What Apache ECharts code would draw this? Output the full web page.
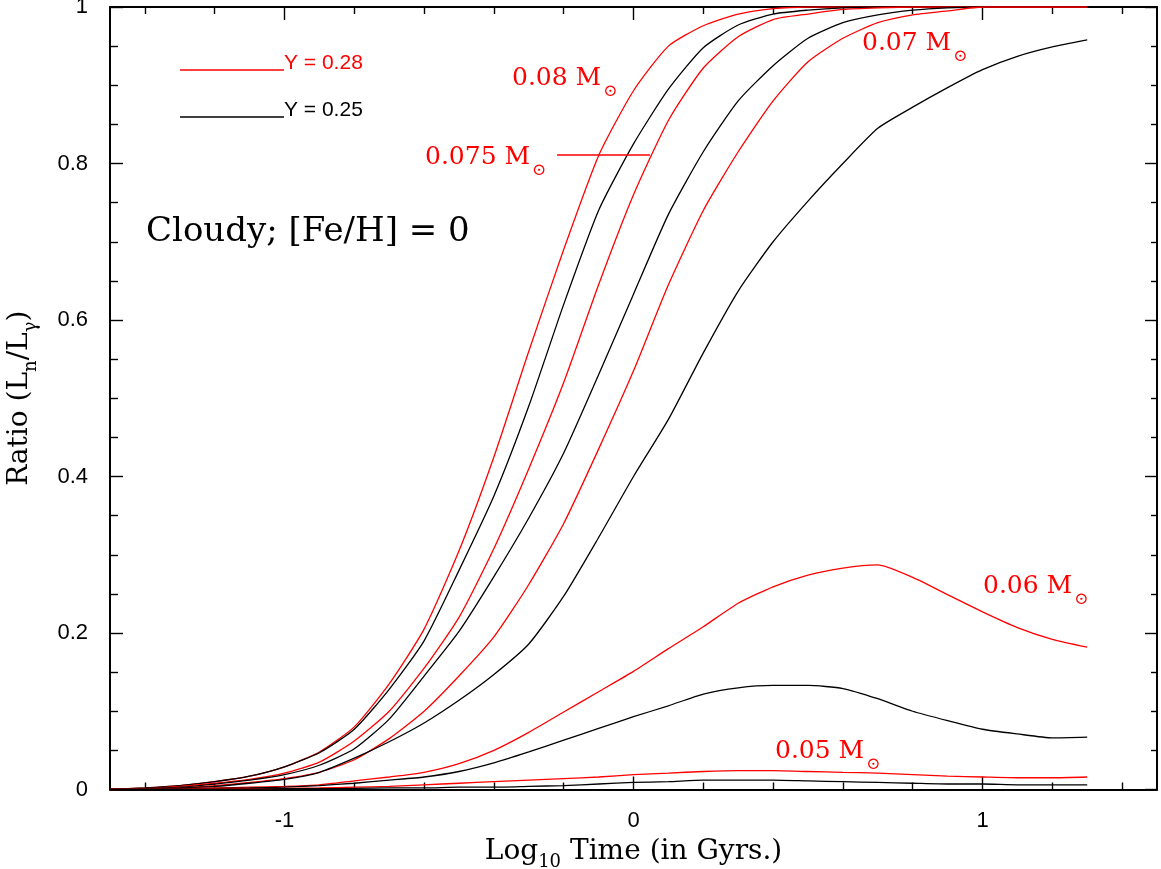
<!DOCTYPE html>
<html>
<head>
<meta charset="utf-8">
<script src="https://cdn.jsdelivr.net/npm/echarts@6/dist/echarts.min.js"></script>
<style>
html,body{margin:0;padding:0;background:#fff;}
#chart{width:1161px;height:869px;}
</style>
</head>
<body>
<div id="chart"></div>
<script>
// x positions (log10 time in Gyr)
const xVals = [-1.5,-1.4,-1.3,-1.2,-1.1,-1.0,-0.9,-0.8,-0.7,-0.6,-0.5,-0.4,-0.3,-0.2,-0.1,
               0.0,0.1,0.2,0.3,0.4,0.5,0.6,0.7,0.8,0.9,1.0,1.1,1.2,1.3];

// Y = 0.28 (red)
const r080 = [0,0.002,0.005,0.010,0.017,0.029,0.048,0.080,0.135,0.205,0.305,0.425,0.56,0.69,0.81,
              0.893,0.95,0.976,0.991,0.998,1,1,1,1,1,1,1,1,1];
const r075 = [0,0.001,0.004,0.008,0.013,0.021,0.035,0.062,0.10,0.155,0.22,0.308,0.41,0.52,0.645,
              0.76,0.855,0.922,0.962,0.984,0.991,0.997,0.999,1,1,1,1,1,1];
const r070 = [0,0.001,0.002,0.005,0.009,0.014,0.022,0.038,0.065,0.10,0.145,0.195,0.262,0.34,0.435,
              0.535,0.645,0.74,0.815,0.88,0.93,0.96,0.98,0.99,0.995,1,1,1,1];
const r060 = [0,0.0005,0.001,0.002,0.003,0.004,0.006,0.011,0.016,0.022,0.033,0.05,0.073,0.099,0.125,
              0.151,0.18,0.208,0.238,0.259,0.274,0.283,0.287,0.271,0.249,0.227,0.207,0.192,0.182];
const r050 = [0,0,0.0005,0.001,0.001,0.0015,0.002,0.003,0.004,0.006,0.008,0.010,0.012,0.014,0.016,
              0.019,0.021,0.023,0.024,0.024,0.023,0.022,0.021,0.019,0.017,0.016,0.015,0.015,0.016];

// Y = 0.25 (black)
const b080 = [0,0.002,0.005,0.010,0.017,0.029,0.047,0.077,0.128,0.19,0.28,0.375,0.49,0.62,0.74,
              0.825,0.895,0.948,0.977,0.991,0.996,0.999,1,1,1,1,1,1,1];
const b075 = [0,0.001,0.003,0.007,0.012,0.019,0.031,0.052,0.09,0.145,0.202,0.272,0.347,0.43,0.53,
              0.633,0.735,0.815,0.88,0.925,0.96,0.98,0.99,0.996,0.999,1,1,1,1];
const b070 = [0,0.001,0.002,0.004,0.008,0.013,0.022,0.04,0.061,0.085,0.114,0.147,0.186,0.247,0.322,
              0.40,0.473,0.558,0.637,0.70,0.752,0.80,0.845,0.872,0.897,0.92,0.937,0.949,0.958];
const b060 = [0,0.0005,0.001,0.0015,0.002,0.003,0.005,0.008,0.012,0.016,0.023,0.034,0.048,0.063,0.078,
              0.093,0.107,0.122,0.130,0.133,0.133,0.129,0.116,0.100,0.088,0.077,0.071,0.066,0.067];
const b050 = [0,0,0,0.0005,0.0005,0.001,0.001,0.0015,0.002,0.002,0.003,0.003,0.004,0.005,0.007,
              0.009,0.010,0.012,0.012,0.012,0.011,0.010,0.009,0.008,0.007,0.007,0.006,0.006,0.006];

const xMajor = [-1, 0, 1];
const xMinor = [-1.4,-1.2,-0.8,-0.6,-0.4,-0.2,0.2,0.4,0.6,0.8,1.2,1.4];
const legendLabels = ['Y = 0.28', 'Y = 0.25'];

const RED = '#ff0000', BLACK = '#000000';
const SERIF = '"DejaVu Serif", serif';
const SANS = '"Liberation Sans", Arial, sans-serif';

function mk(name, arr, color) {
  return {
    name: name, type: 'line', data: xVals.map((x, i) => [x, arr[i]]),
    showSymbol: false, symbol: 'none', smooth: 0.2,
    lineStyle: { color: color, width: 1.3 }, z: 3, silent: true, animation: false
  };
}

function xAx(pos, ticks, len, showLine, showLabel) {
  return {
    type: 'value', position: pos, min: -1.5, max: 1.5,
    axisLine: { show: showLine, onZero: false, lineStyle: { color: BLACK, width: 2 } },
    axisTick: { show: true, inside: true, length: len, customValues: ticks, lineStyle: { color: BLACK, width: 1.4 } },
    axisLabel: { show: showLabel, customValues: ticks, margin: 20, color: BLACK, fontSize: 22, fontFamily: SANS },
    splitLine: { show: false }
  };
}

const chart = echarts.init(document.getElementById('chart'), null, { renderer: 'canvas' });

function annot(txt, left, cy) {
  return {
    type: 'text', left: left, top: cy - 11, z: 10,
    style: {
      text: '{a|' + txt + '}{s|⊙}',
      rich: {
        a: { fontFamily: SERIF, fontSize: 25, lineHeight: 34, verticalAlign: 'top', fill: RED, color: RED },
        s: { fontFamily: SERIF, fontSize: 17, lineHeight: 17, verticalAlign: 'bottom', fill: RED, color: RED, padding: [0,0,0,2] }
      }
    }
  };
}

const nameRich = {
  a: { fontFamily: SERIF, fontSize: 28, color: BLACK, verticalAlign: 'top', lineHeight: 34 },
  s: { fontFamily: SERIF, fontSize: 18, color: BLACK, verticalAlign: 'bottom', lineHeight: 20 }
};

chart.setOption({
  animation: false,
  backgroundColor: '#fff',
  grid: { left: 110, top: 7, right: 4, bottom: 79.5, containLabel: false, outerBoundsMode: 'none' },
  xAxis: [
    Object.assign(xAx('bottom', xMajor, 13, true, true), {
      name: '{a|Log}{s|10}{a| Time (in Gyrs.)}', nameLocation: 'middle', nameGap: 48,
      nameTextStyle: { rich: nameRich }
    }),
    xAx('bottom', xMinor, 7, false, false),
    xAx('top', xMajor, 13, true, false),
    xAx('top', xMinor, 7, false, false)
  ],
  yAxis: [
    {
      type: 'value', position: 'left', min: 0, max: 1, interval: 0.2,
      axisLine: { show: true, onZero: false, lineStyle: { color: BLACK, width: 2 } },
      axisTick: { show: true, inside: true, length: 13, lineStyle: { color: BLACK, width: 1.4 } },
      minorTick: { show: true, splitNumber: 4, length: 8, lineStyle: { color: BLACK, width: 1.4 } },
      axisLabel: { margin: 22, color: BLACK, fontSize: 22, fontFamily: SANS },
      splitLine: { show: false }, minorSplitLine: { show: false },
      name: '{a|Ratio (L}{s|n}{a|/L}{s|γ}{a|)}', nameLocation: 'middle', nameRotate: 90, nameGap: 70,
      nameTextStyle: { rich: nameRich }
    },
    {
      type: 'value', position: 'right', min: 0, max: 1, interval: 0.2,
      axisLine: { show: true, onZero: false, lineStyle: { color: BLACK, width: 2 } },
      axisTick: { show: true, inside: true, length: 12, lineStyle: { color: BLACK, width: 1.4 } },
      minorTick: { show: true, splitNumber: 4, length: 6, lineStyle: { color: BLACK, width: 1.4 } },
      axisLabel: { show: false },
      splitLine: { show: false }, minorSplitLine: { show: false }
    }
  ],
  series: [
    mk('r0.08', r080, RED), mk('b0.08', b080, BLACK),
    mk('r0.075', r075, RED), mk('b0.075', b075, BLACK),
    mk('r0.07', r070, RED), mk('b0.07', b070, BLACK),
    mk('r0.06', r060, RED), mk('b0.06', b060, BLACK),
    mk('r0.05', r050, RED), mk('b0.05', b050, BLACK)
  ],
  graphic: [
    // legend
    { type: 'line', shape: { x1: 180, y1: 70, x2: 284, y2: 70 }, style: { stroke: RED, lineWidth: 1.3 }, z: 10 },
    { type: 'text', left: 284, top: 53, z: 10, style: { text: legendLabels[0], fill: RED, fontFamily: SANS, fontSize: 21 } },
    { type: 'line', shape: { x1: 180, y1: 117, x2: 284, y2: 117 }, style: { stroke: BLACK, lineWidth: 1.3 }, z: 10 },
    { type: 'text', left: 284, top: 100, z: 10, style: { text: legendLabels[1], fill: BLACK, fontFamily: SANS, fontSize: 21 } },
    // title text
    { type: 'text', left: 146, top: 215, z: 10, style: { text: 'Cloudy; [Fe/H] = 0', fill: BLACK, fontFamily: SERIF, fontSize: 34 } },
    // mass annotations
    annot('0.08 M', 512, 77),
    annot('0.075 M', 425, 156),
    { type: 'line', shape: { x1: 557, y1: 155, x2: 650, y2: 155 }, style: { stroke: RED, lineWidth: 1.5 }, z: 10 },
    annot('0.07 M', 862, 42),
    annot('0.06 M', 983, 585),
    annot('0.05 M', 775, 750)
  ]
});
</script>
</body>
</html>
